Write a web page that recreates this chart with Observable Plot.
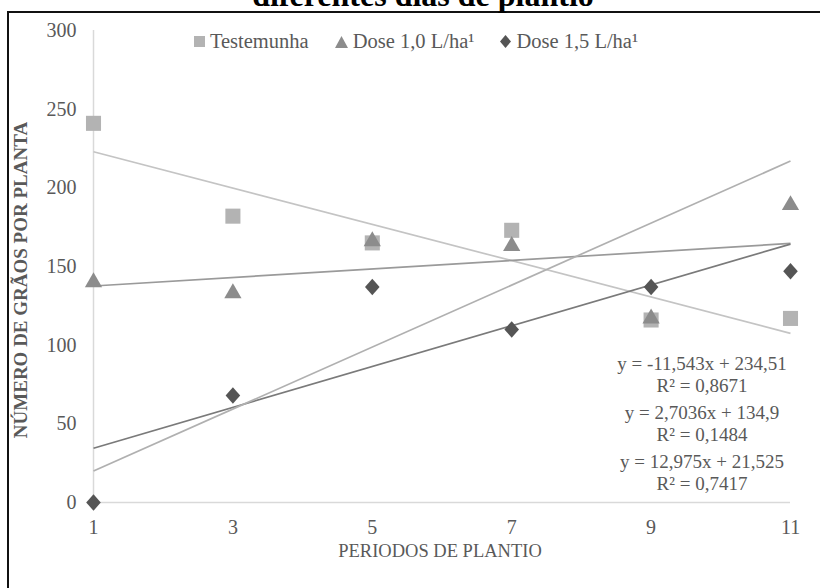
<!DOCTYPE html>
<html>
<head>
<meta charset="utf-8">
<script src="https://cdn.jsdelivr.net/npm/d3@7"></script>
<script src="https://cdn.jsdelivr.net/npm/@observablehq/plot@0.6"></script>
<style>
  html, body { margin: 0; padding: 0; background: #fff; }
  body { width: 820px; height: 588px; position: relative; overflow: hidden; font-family: "Liberation Serif", serif; }
  #frame { position: absolute; left: 7px; top: 11px; width: 830px; height: 600px; border: 2px solid #111; box-sizing: border-box; }
  #title { position: absolute; left: 0; width: 846px; top: -21px; text-align: center; font: bold 32px "Liberation Serif", serif; color: #000; line-height: 32px; }
  #chart { position: absolute; left: 0; top: 0; }
  .lbl { position: absolute; color: #595959; font-size: 20px; white-space: nowrap; }
  #legend { position: absolute; top: 30px; left: 0; width: 820px; display: flex; justify-content: center; gap: 26px; font-size: 20.5px; color: #595959; padding-left: 12px; box-sizing: border-box; }
  #legend span.item { display: flex; align-items: center; gap: 5px; }
  #eq { position: absolute; left: 602px; width: 200px; top: 353px; text-align: center; font-size: 19px; color: #595959; }
  #eq div { line-height: 21.5px; }
  #eq .gap { height: 6px; }
</style>
</head>
<body>
<div id="frame"></div>
<div id="title">diferentes dias de plantio</div>
<div id="chart"></div>
<div id="legend"></div>
<div id="eq"></div>
<div class="lbl" id="ylab"></div>
<div class="lbl" id="xlab"></div>
<script>
// ---- data ----
const periods = [1, 3, 5, 7, 9, 11];
const seriesNames = ["Testemunha", "Dose 1,0 L/ha¹", "Dose 1,5 L/ha¹"];
const testemunha = [241, 182, 165, 173, 116, 117];
const dose10 = [140, 133, 166, 163, 117, 189];
const dose15 = [0, 68, 137, 110, 137, 147];
// trendlines: slope, intercept (last one is an extra unlabelled line in the figure)
const trendSlopes = [-11.543, 2.7036, 12.975, 19.7];
const trendIntercepts = [234.51, 134.9, 21.525, 0.3];
const equations = [
  ["y = -11,543x + 234,51", "R² = 0,8671"],
  ["y = 2,7036x + 134,9", "R² = 0,1484"],
  ["y = 12,975x + 21,525", "R² = 0,7417"]
];
const yTicks = [0, 50, 100, 150, 200, 250, 300];
const xTitle = "PERIODOS DE PLANTIO";
const yTitle = "NÚMERO DE GRÃOS POR PLANTA";

// ---- styles ----
const markerColors = ["#b3b3b3", "#8c8c8c", "#555555"];
const wideDiamond = {
  draw(ctx, size) {
    const h = Math.sqrt(size / (2 * 0.88)), w = 0.88 * h;
    ctx.moveTo(0, -h); ctx.lineTo(w, 0); ctx.lineTo(0, h); ctx.lineTo(-w, 0); ctx.closePath();
  }
};
const markerSymbols = ["square", "triangle", wideDiamond];
const markerR = [8.5, 6.4, 6.2];
const trendColors = ["#c4c4c4", "#9a9a9a", "#7a7a7a", "#b0b0b0"];

const seriesVals = [testemunha, dose10, dose15];
const points = [];
seriesVals.forEach((vals, s) => vals.forEach((v, i) => points.push({x: periods[i], y: v, s})));

const xDomain = [1, 11];
const trendSegs = trendSlopes.map((m, i) => ({
  x1: xDomain[0], y1: m * xDomain[0] + trendIntercepts[i],
  x2: xDomain[1], y2: m * xDomain[1] + trendIntercepts[i], c: trendColors[i]
}));

const plot = Plot.plot({
  width: 820, height: 588,
  marginLeft: 93, marginRight: 30, marginTop: 30, marginBottom: 86,
  style: {fontFamily: "Liberation Serif, serif", fontSize: "20px", color: "#595959", background: "transparent"},
  x: {domain: xDomain, ticks: periods, tickSize: 0, tickPadding: 17, label: null, tickFormat: d => String(d)},
  y: {domain: [0, 300], ticks: yTicks, tickSize: 0, tickPadding: 17, label: null},
  marks: [
    Plot.ruleX([1], {stroke: "#d9d9d9", strokeWidth: 1.5}),
    Plot.ruleY([0], {stroke: "#d9d9d9", strokeWidth: 1.5}),
    Plot.link(trendSegs, {x1: "x1", y1: "y1", x2: "x2", y2: "y2", stroke: "c", strokeWidth: 1.7}),
    ...[0, 1, 2].map(s => Plot.dot(points.filter(p => p.s === s), {
      x: "x", y: "y", symbol: markerSymbols[s], fill: markerColors[s], stroke: "none", r: markerR[s]
    }))
  ]
});
document.getElementById("chart").appendChild(plot);

// legend
const legend = document.getElementById("legend");
const glyphSvg = [
  c => `<svg width="11" height="11"><rect x="0" y="0" width="11" height="11" fill="${c}"/></svg>`,
  c => `<svg width="13" height="12"><path d="M6.5 0 L13 12 L0 12 Z" fill="${c}"/></svg>`,
  c => `<svg width="11" height="13"><path d="M5.5 0 L11 6.5 L5.5 13 L0 6.5 Z" fill="${c}"/></svg>`
];
seriesNames.forEach((n, i) => {
  const it = document.createElement("span");
  it.className = "item";
  it.innerHTML = glyphSvg[i](markerColors[i]) + `<span>${n}</span>`;
  legend.appendChild(it);
});

// equations
const eq = document.getElementById("eq");
equations.forEach((e, i) => {
  if (i > 0) { const g = document.createElement("div"); g.className = "gap"; eq.appendChild(g); }
  e.forEach(t => { const d = document.createElement("div"); d.textContent = t; eq.appendChild(d); });
});

// axis titles
const xl = document.getElementById("xlab");
xl.textContent = xTitle;
xl.style.left = "0px"; xl.style.width = "880px"; xl.style.textAlign = "center"; xl.style.top = "541px";
xl.style.fontSize = "18.5px";
const yl = document.getElementById("ylab");
yl.textContent = yTitle;
yl.style.left = "21px"; yl.style.top = "280px";
yl.style.transform = "translate(-50%, -50%) rotate(-90deg)";
yl.style.fontWeight = "bold";
yl.style.fontSize = "19px";
</script>
</body>
</html>
